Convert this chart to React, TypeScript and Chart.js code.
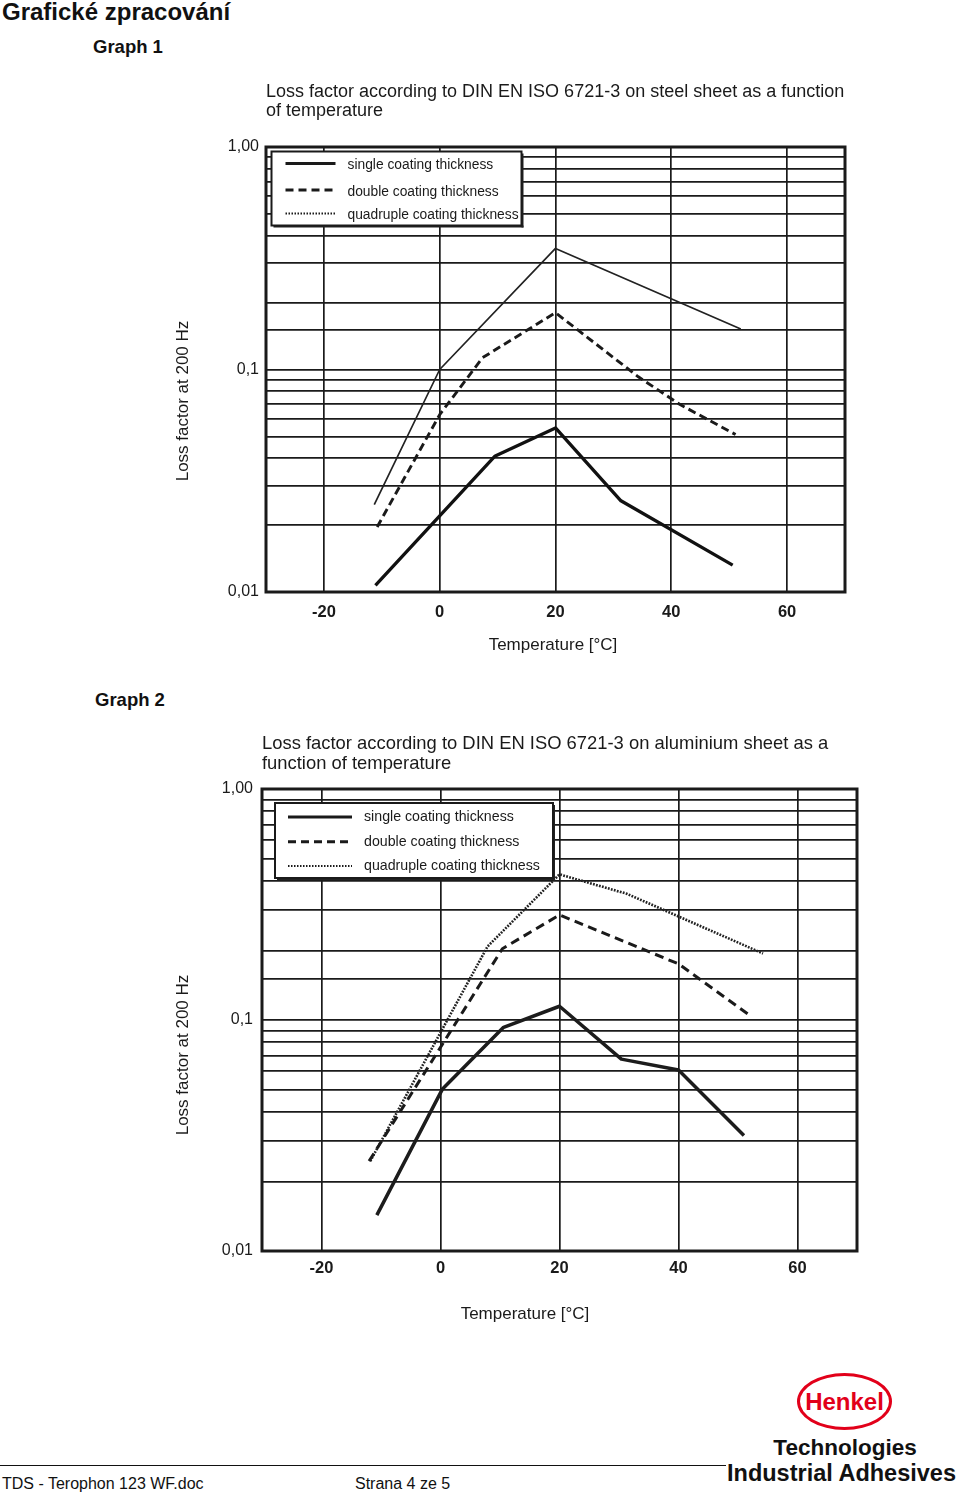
import React, { useEffect, useRef } from 'react';
import { Chart, registerables } from 'chart.js';

Chart.register(...registerables);

const FONT = '"Liberation Sans", Arial, Helvetica, sans-serif';
const INK = '#1a1a1a';

// ---------- shared labels / ticks ----------
const seriesLabels = ['single coating thickness', 'double coating thickness', 'quadruple coating thickness'];
const xTickValues = [-20, 0, 20, 40, 60];
const xTickLabels = ['-20', '0', '20', '40', '60'];
const yTickValues = [1, 0.1, 0.01];
const yTickLabels = ['1,00', '0,1', '0,01'];
const xAxisTitle = 'Temperature [°C]';
const yAxisTitle = 'Loss factor at 200 Hz';

// ---------- Graph 1 (steel sheet) ----------
const g1Title = ['Loss factor according to DIN EN ISO 6721-3 on steel sheet as a function', 'of temperature'];
const g1SingleTemp = [-11.3, 0, 20, 52];
const g1SingleLoss = [0.0247, 0.1, 0.35, 0.152];
const g1DoubleTemp = [-10.8, 0, 7.4, 20, 34.3, 41.5, 51.1];
const g1DoubleLoss = [0.0196, 0.0627, 0.113, 0.18, 0.0927, 0.0696, 0.051];
const g1QuadTemp = [-11.1, 9.5, 20, 31.3, 50.6];
const g1QuadLoss = [0.0107, 0.0407, 0.0546, 0.0257, 0.0132];

// ---------- Graph 2 (aluminium sheet) ----------
const g2Title = ['Loss factor according to DIN EN ISO 6721-3 on aluminium sheet as a', 'function of temperature'];
const g2SingleTemp = [-10.7, 0.3, 10.6, 20, 30.4, 40, 51];
const g2SingleLoss = [0.0143, 0.0501, 0.093, 0.1147, 0.0677, 0.0608, 0.0316];
const g2DoubleTemp = [-12, 10.4, 20, 40, 51.9];
const g2DoubleLoss = [0.0245, 0.2035, 0.285, 0.175, 0.105];
const g2QuadTemp = [-11.8, 7.9, 20, 31.3, 54.2];
const g2QuadLoss = [0.0245, 0.208, 0.427, 0.352, 0.194];

// legend sample styles (as printed in both legends)
const LEGEND_SAMPLES = [
  { width: 3, dash: [] as number[] },
  { width: 3, dash: [8, 5] },
  { width: 2, dash: [1.5, 1.5] },
];

type Series = { temps: number[]; loss: number[]; width: number; dash: number[]; color: string };
type Spec = {
  left: number; top: number; width: number; height: number;
  title: string[]; titleSize: number; titlePadTop: number; titlePadBottom: number;
  yAxisWidth: number; xAxisHeight: number; padRight: number;
  xTickPad: number; yTickPad: number;
  series: Series[];
  legend: { dx: number; dy: number; w: number; h: number; sx0: number; sx1: number; tx: number; rows: number[]; fontSize: number; textDy: number };
  yTitlePos: [number, number];
  xTitlePos: [number, number];
};

const graph1: Spec = {
  left: 160, top: 70, width: 710, height: 610,
  title: g1Title, titleSize: 18, titlePadTop: 12.25, titlePadBottom: 25.75,
  yAxisWidth: 106, xAxisHeight: 88, padRight: 25,
  xTickPad: 11, yTickPad: 7,
  series: [
    { temps: g1SingleTemp, loss: g1SingleLoss, width: 1.7, dash: [], color: '#222' },
    { temps: g1DoubleTemp, loss: g1DoubleLoss, width: 2.9, dash: [8, 4.5], color: INK },
    { temps: g1QuadTemp, loss: g1QuadLoss, width: 3.3, dash: [], color: '#111' },
  ],
  legend: { dx: 5.5, dy: 4.5, w: 250, h: 74, sx0: 14, sx1: 64, tx: 76, rows: [12, 38.5, 62], fontSize: 13.8, textDy: 2 },
  yTitlePos: [23, 331],
  xTitlePos: [393, 575],
};

const graph2: Spec = {
  left: 160, top: 720, width: 710, height: 620,
  title: g2Title, titleSize: 18.4, titlePadTop: 14.25, titlePadBottom: 15.75,
  yAxisWidth: 102, xAxisHeight: 89, padRight: 13,
  xTickPad: 8, yTickPad: 9,
  series: [
    { temps: g2SingleTemp, loss: g2SingleLoss, width: 3.5, dash: [], color: '#1c1c1c' },
    { temps: g2DoubleTemp, loss: g2DoubleLoss, width: 3, dash: [9, 5.5], color: INK },
    { temps: g2QuadTemp, loss: g2QuadLoss, width: 2.6, dash: [1.8, 1.3], color: '#222' },
  ],
  legend: { dx: 13, dy: 14, w: 278, h: 75, sx0: 13, sx1: 77, tx: 89, rows: [14, 38.7, 63], fontSize: 14.2, textDy: 0 },
  yTitlePos: [23, 335],
  xTitlePos: [365, 594],
};

function makeDecor(spec: Spec) {
  return {
    id: 'decor',
    afterDraw(chart: any) {
      const { ctx, chartArea: ca } = chart;
      ctx.save();
      // plot frame
      ctx.strokeStyle = INK;
      ctx.lineWidth = 3;
      ctx.setLineDash([]);
      ctx.strokeRect(ca.left, ca.top, ca.right - ca.left, ca.bottom - ca.top);

      // legend box
      const L = spec.legend;
      const bx = ca.left + L.dx;
      const by = ca.top + L.dy;
      ctx.fillStyle = '#ffffff';
      ctx.fillRect(bx, by, L.w, L.h);
      ctx.fillStyle = '#222';
      ctx.fillRect(bx + 2, by + L.h, L.w, 2);
      ctx.fillRect(bx + L.w, by + 2, 2, L.h);
      ctx.lineWidth = 2;
      ctx.strokeStyle = INK;
      ctx.strokeRect(bx, by, L.w, L.h);
      chart.data.datasets.forEach((ds: any, i: number) => {
        const s = LEGEND_SAMPLES[i];
        const y = by + L.rows[i];
        ctx.beginPath();
        ctx.setLineDash(s.dash);
        ctx.lineWidth = s.width;
        ctx.strokeStyle = INK;
        ctx.moveTo(bx + L.sx0, y);
        ctx.lineTo(bx + L.sx1, y);
        ctx.stroke();
        ctx.setLineDash([]);
        ctx.fillStyle = INK;
        ctx.font = `${L.fontSize}px ${FONT}`;
        ctx.textAlign = 'left';
        ctx.textBaseline = 'middle';
        ctx.fillText(ds.label, bx + L.tx, y + L.textDy);
      });

      // axis titles
      const texts = [
        { text: yAxisTitle, x: spec.yTitlePos[0], y: spec.yTitlePos[1], rot: -Math.PI / 2 },
        { text: xAxisTitle, x: spec.xTitlePos[0], y: spec.xTitlePos[1], rot: 0 },
      ];
      texts.forEach((t) => {
        ctx.save();
        ctx.translate(t.x, t.y);
        ctx.rotate(t.rot);
        ctx.font = `17px ${FONT}`;
        ctx.fillStyle = INK;
        ctx.textAlign = 'center';
        ctx.textBaseline = 'middle';
        ctx.fillText(t.text, 0, 0);
        ctx.restore();
      });
      ctx.restore();
    },
  };
}

function buildConfig(spec: Spec): any {
  const datasets = spec.series.map((s, i) => ({
    label: seriesLabels[i],
    data: s.temps.map((t, k) => ({ x: t, y: s.loss[k] })),
    borderColor: s.color,
    backgroundColor: s.color,
    borderWidth: s.width,
    borderDash: s.dash,
    borderCapStyle: 'butt',
    borderJoinStyle: 'round',
    pointRadius: 0,
    pointHoverRadius: 0,
    fill: false,
    tension: 0,
  }));
  return {
    type: 'line',
    data: { datasets },
    options: {
      animation: false,
      responsive: false,
      events: [],
      layout: { padding: { top: 0, left: 0, right: spec.padRight, bottom: 0 } },
      plugins: {
        legend: { display: false },
        tooltip: { enabled: false },
        title: {
          display: true,
          text: spec.title,
          align: 'start',
          fullSize: false,
          color: INK,
          font: { family: FONT, size: spec.titleSize, weight: 'normal', lineHeight: '19.5px' },
          padding: { top: spec.titlePadTop, bottom: spec.titlePadBottom },
        },
      },
      scales: {
        x: {
          type: 'linear',
          min: -30,
          max: 70,
          afterBuildTicks: (axis: any) => {
            axis.ticks = xTickValues.map((v) => ({ value: v }));
          },
          afterFit: (axis: any) => {
            axis.height = spec.xAxisHeight;
          },
          ticks: {
            autoSkip: false,
            maxRotation: 0,
            padding: spec.xTickPad,
            color: INK,
            font: { family: FONT, size: 16.5, weight: 'bold' },
            callback: (v: any) => {
              const i = xTickValues.indexOf(Number(v));
              return i >= 0 ? xTickLabels[i] : '';
            },
          },
          grid: { color: INK, lineWidth: 1.7, drawTicks: false },
          border: { display: false },
        },
        y: {
          type: 'logarithmic',
          min: 0.01,
          max: 1,
          afterFit: (axis: any) => {
            axis.width = spec.yAxisWidth;
          },
          ticks: {
            autoSkip: false,
            padding: spec.yTickPad,
            color: INK,
            font: { family: FONT, size: 16 },
            callback: (v: any) => {
              const n = Number(v);
              const i = yTickValues.findIndex((t) => Math.abs(t - n) / t < 1e-6);
              return i >= 0 ? yTickLabels[i] : '';
            },
          },
          grid: { color: INK, lineWidth: 1.8, drawTicks: false },
          border: { display: false },
        },
      },
    },
    plugins: [makeDecor(spec)],
  };
}

function ChartBlock({ spec }: { spec: Spec }) {
  const ref = useRef<HTMLCanvasElement | null>(null);
  useEffect(() => {
    if (!ref.current) return;
    const chart = new Chart(ref.current, buildConfig(spec));
    return () => chart.destroy();
  }, [spec]);
  return (
    <canvas
      ref={ref}
      width={spec.width}
      height={spec.height}
      style={{ position: 'absolute', left: spec.left, top: spec.top, width: spec.width, height: spec.height }}
    />
  );
}

const abs = (left: number, top: number, size: number, bold: boolean, extra: any = {}) => ({
  position: 'absolute' as const,
  left,
  top,
  fontSize: size,
  lineHeight: `${size}px`,
  fontWeight: bold ? 'bold' : 'normal',
  whiteSpace: 'nowrap' as const,
  ...extra,
});

export default function App() {
  return (
    <div
      style={{
        position: 'absolute',
        left: 0,
        top: 0,
        width: 960,
        height: 1495,
        overflow: 'hidden',
        background: '#ffffff',
        fontFamily: FONT,
        color: '#111',
      }}
    >
      <div style={abs(2, 0, 24, true)}>Grafické zpracování</div>
      <div style={abs(93, 38, 18.5, true)}>Graph 1</div>
      <ChartBlock spec={graph1} />
      <div style={abs(95, 691, 18.5, true)}>Graph 2</div>
      <ChartBlock spec={graph2} />

      {/* footer */}
      <div style={{ position: 'absolute', left: 0, top: 1465, width: 726, height: 1, background: '#111' }} />
      <div style={abs(2, 1476, 16, false)}>TDS - Terophon 123 WF.doc</div>
      <div style={abs(355, 1476, 16, false)}>Strana 4 ze 5</div>

      {/* Henkel logo */}
      <div
        style={{
          position: 'absolute',
          left: 797,
          top: 1373,
          width: 95,
          height: 57,
          boxSizing: 'border-box',
          border: '3px solid #e2001a',
          borderRadius: '50%',
          display: 'flex',
          alignItems: 'center',
          justifyContent: 'center',
          color: '#e2001a',
          fontWeight: 'bold',
          fontSize: 24,
          lineHeight: '24px',
        }}
      >
        Henkel
      </div>
      <div style={abs(695, 1437, 22.5, true, { width: 300, textAlign: 'center' })}>Technologies</div>
      <div style={abs(727, 1462, 23.5, true)}>Industrial Adhesives</div>
    </div>
  );
}
